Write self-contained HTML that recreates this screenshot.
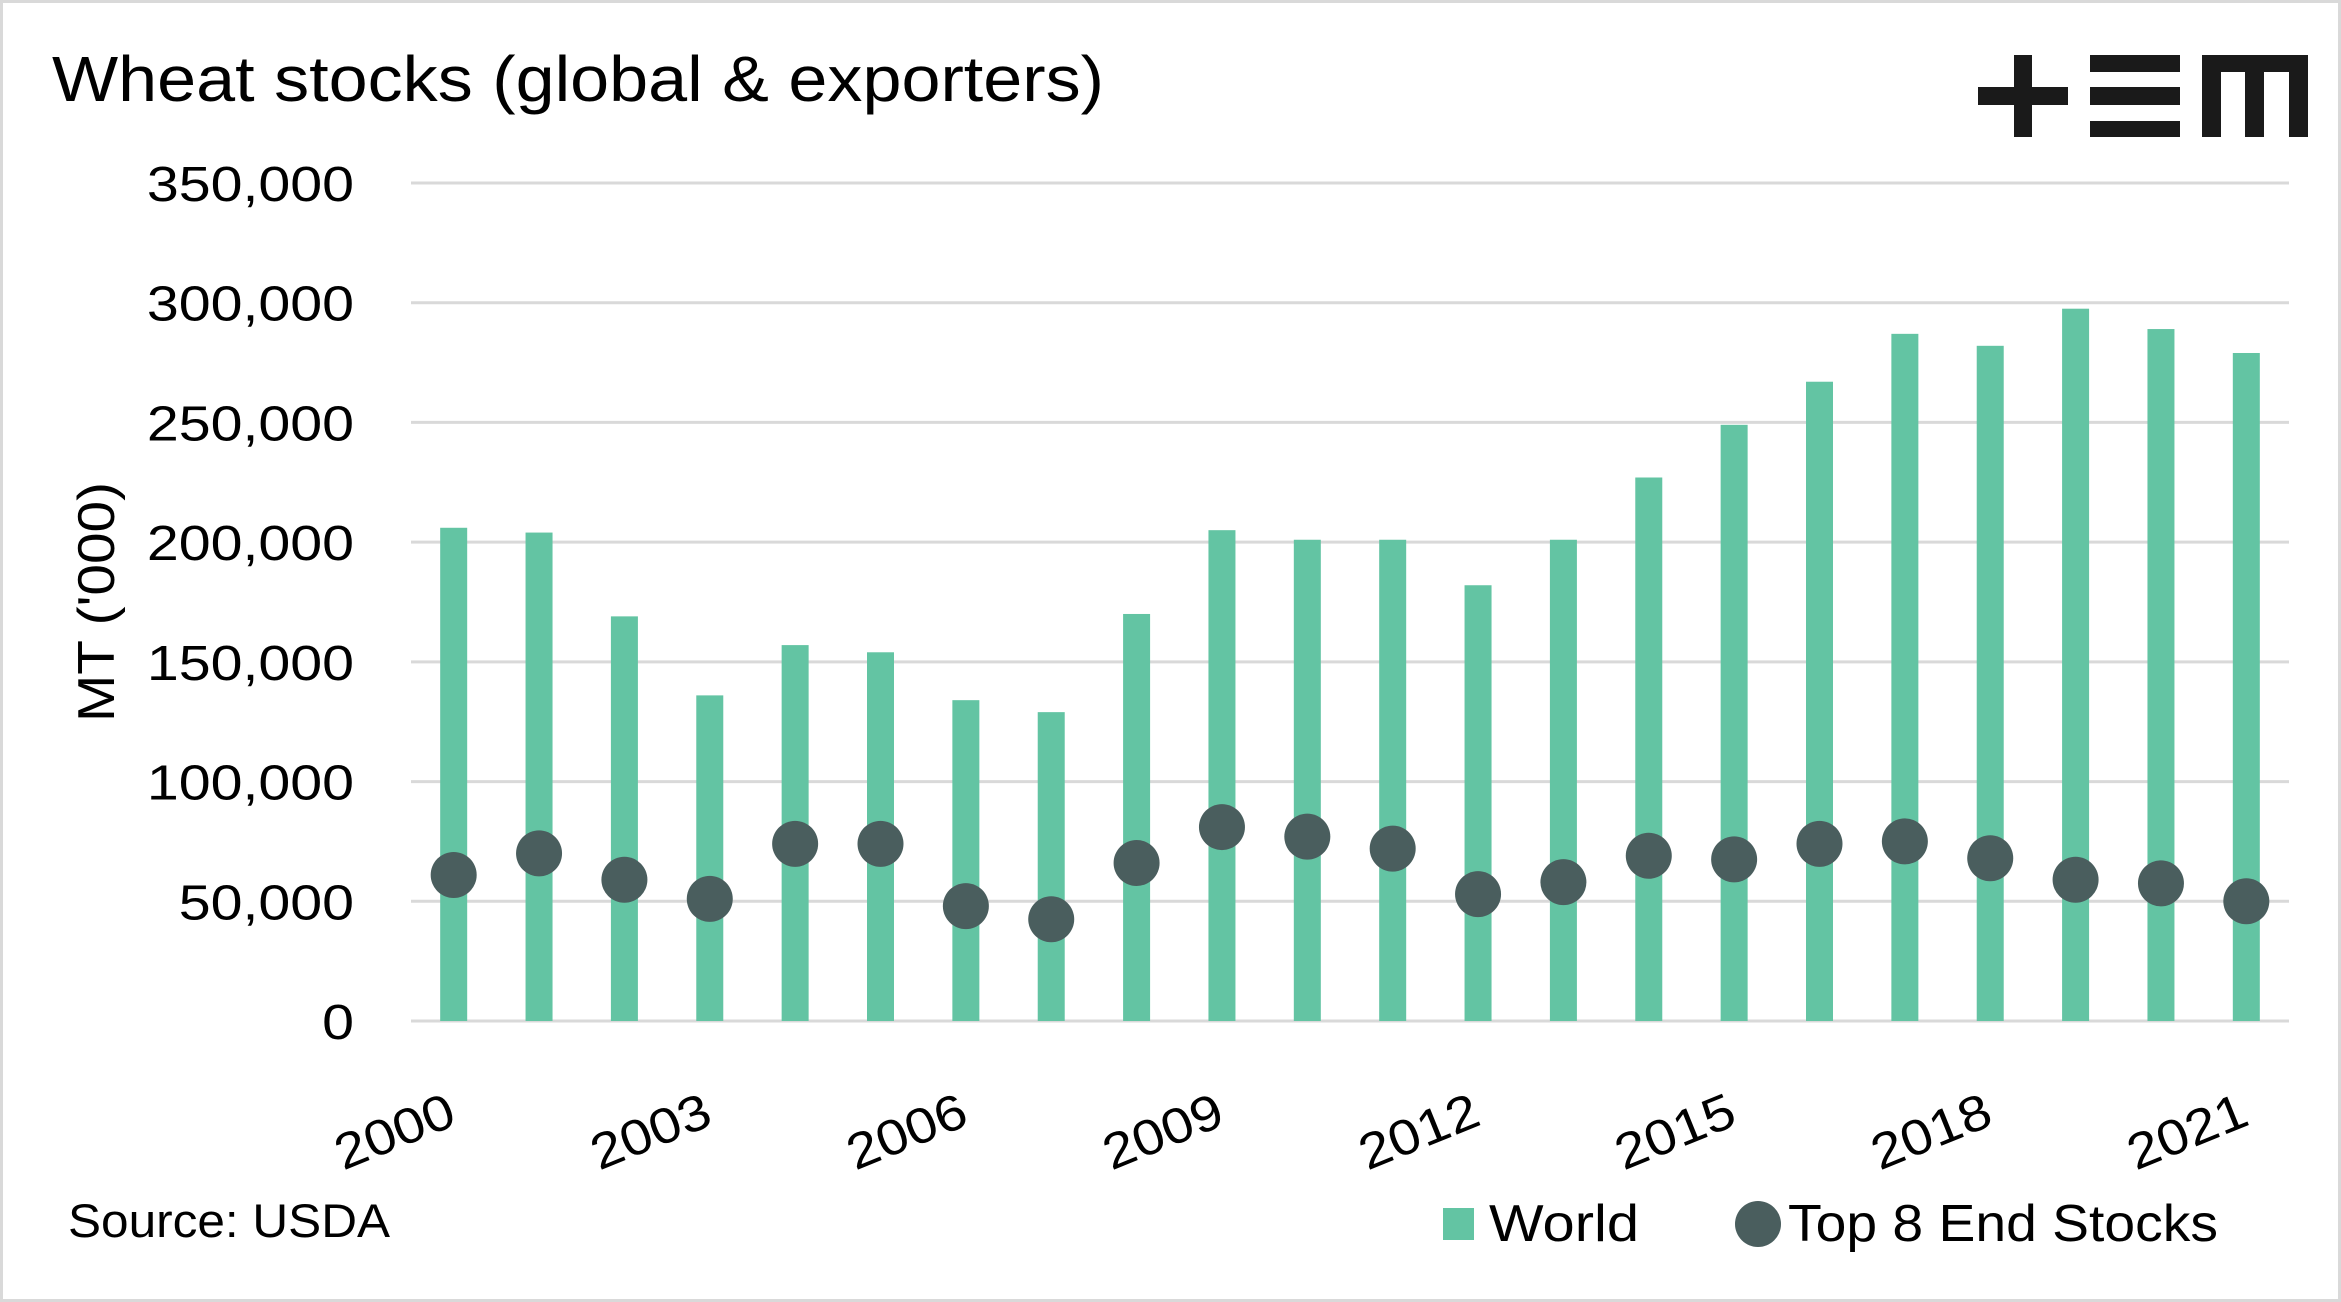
<!DOCTYPE html>
<html><head><meta charset="utf-8"><style>
html,body{margin:0;padding:0;background:#fff}
svg{display:block;font-family:"Liberation Sans",sans-serif}
</style></head><body>
<svg id="chart" width="2341" height="1302" viewBox="0 0 2341 1302">
<rect x="1.5" y="1.5" width="2338" height="1299" fill="#fff" stroke="#d9d9d9" stroke-width="3"/>
<text x="52" y="101" font-size="64" fill="#000" textLength="1052" lengthAdjust="spacingAndGlyphs">Wheat stocks (global &amp; exporters)</text>
<g fill="#1a1a1a">
<rect x="1978" y="87" width="90" height="18"/><rect x="2014" y="55" width="18" height="82"/>
<rect x="2090" y="55" width="90" height="17"/><rect x="2090" y="87" width="90" height="18"/><rect x="2090" y="121" width="90" height="16"/>
<rect x="2202" y="55" width="106" height="17"/><rect x="2202" y="55" width="19" height="82"/><rect x="2245" y="55" width="19" height="82"/><rect x="2289" y="55" width="19" height="82"/>
</g>
<g id="grid"></g><g id="bars"></g><g id="dots"></g><g id="labels"></g>
<text transform="translate(114,602) rotate(-90)" text-anchor="middle" font-size="52" textLength="240" lengthAdjust="spacingAndGlyphs">MT ('000)</text>
<text x="68" y="1237" font-size="47" textLength="322" lengthAdjust="spacingAndGlyphs">Source: USDA</text>
<g>
<rect x="1443" y="1208" width="31" height="32" fill="#63c4a3"/>
<text x="1489" y="1241" font-size="52" textLength="150" lengthAdjust="spacingAndGlyphs">World</text>
<circle cx="1758" cy="1224" r="23" fill="#4a5e5e"/>
<text x="1788" y="1241" font-size="52" textLength="430" lengthAdjust="spacingAndGlyphs">Top 8 End Stocks</text>
</g>
</svg>
<script>
const years=[2000,2001,2002,2003,2004,2005,2006,2007,2008,2009,2010,2011,2012,2013,2014,2015,2016,2017,2018,2019,2020,2021];
const world=[206,204,169,136,157,154,134,129,170,205,201,201,182,201,227,249,267,287,282,297.5,289,279];
const top8=[61,70,59,51,74,74,48,42.5,66,81,77,72,53,58,69,67.5,74,75,68,59,57.5,50];
const yTicks=[0,50,100,150,200,250,300,350];
const xTickYears=[2000,2003,2006,2009,2012,2015,2018,2021];
const NS='http://www.w3.org/2000/svg';
const L=411,R=2289,Y0=1021,Y350=183;
const y=v=>Y0-(v/350)*(Y0-Y350);
const band=(R-L)/years.length;
const x=i=>L+band*(i+0.5);
function mk(t,a){const e=document.createElementNS(NS,t);for(const k in a)e.setAttribute(k,a[k]);return e;}
const grid=document.getElementById('grid'),bars=document.getElementById('bars'),dots=document.getElementById('dots'),labels=document.getElementById('labels');
yTicks.forEach(v=>{
  const ln=mk('line',{x1:L,x2:R,y1:y(v),y2:y(v),stroke:'#d9d9d9','stroke-width':3});
  
  
  grid.appendChild(ln);
  const t=mk('text',{transform:'translate(354,'+(y(v)+18)+') scale(1.17,1)','text-anchor':'end','font-size':49});
  
  
  t.textContent=(v*1000).toLocaleString('en-US');
  labels.appendChild(t);
});
years.forEach((yr,i)=>{
  const b=mk('rect',{x:x(i)-13.5,y:y(world[i]),width:27,height:Y0-y(world[i]),fill:'#63c4a3'});
  
  
  bars.appendChild(b);
  const c=mk('circle',{cx:x(i),cy:y(top8[i]),r:23,fill:'#4a5e5e'});
  
  
  dots.appendChild(c);
});
xTickYears.forEach(yr=>{
  const i=years.indexOf(yr);
  const t=mk('text',{transform:'translate('+(x(i)+5)+',1124) rotate(-22) scale(1.12,1)','text-anchor':'end','font-size':50});
  
  
  t.textContent=yr;
  labels.appendChild(t);
});
</script>
</body></html>
